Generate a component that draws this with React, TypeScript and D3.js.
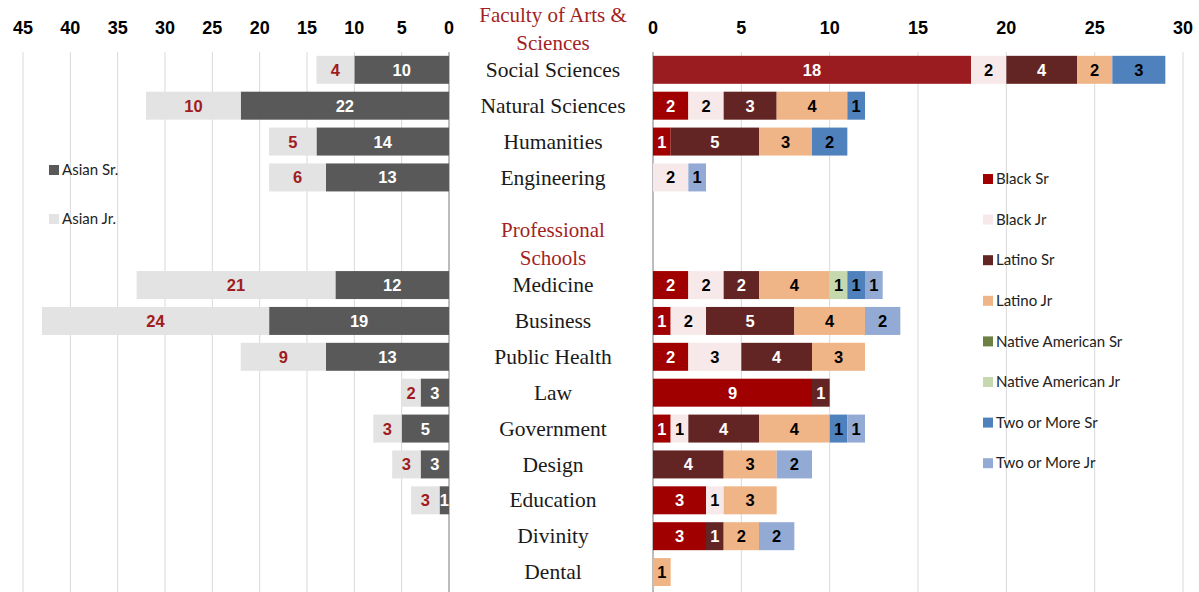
import * as d3 from "d3";

// rows (top to bottom); headers and spacer rows carry no data
const rows = [
  "hdr:Faculty of Arts &|Sciences",
  "Social Sciences",
  "Natural Sciences",
  "Humanities",
  "Engineering",
  "gap",
  "hdr:Professional|Schools",
  "Medicine",
  "Business",
  "Public Health",
  "Law",
  "Government",
  "Design",
  "Education",
  "Divinity",
  "Dental",
];

const schools = [
  "Social Sciences", "Natural Sciences", "Humanities", "Engineering",
  "Medicine", "Business", "Public Health", "Law", "Government",
  "Design", "Education", "Divinity", "Dental",
];

const asianSr = [10, 22, 14, 13, 12, 19, 13, 3, 5, 3, 1, 0, 0];
const asianJr = [4, 10, 5, 6, 21, 24, 9, 2, 3, 3, 3, 0, 0];

const blackSr = [18, 2, 1, 0, 2, 1, 2, 9, 1, 0, 3, 3, 0];
const blackJr = [2, 2, 0, 2, 2, 2, 3, 0, 1, 0, 1, 0, 0];
const latinoSr = [4, 3, 5, 0, 2, 5, 4, 1, 4, 4, 0, 1, 0];
const latinoJr = [2, 4, 3, 0, 4, 4, 3, 0, 4, 3, 3, 2, 1];
const nativeSr = [0, 0, 0, 0, 0, 0, 0, 0, 0, 0, 0, 0, 0];
const nativeJr = [0, 0, 0, 0, 1, 0, 0, 0, 0, 0, 0, 0, 0];
const twoSr = [3, 1, 2, 0, 1, 0, 0, 0, 1, 0, 0, 0, 0];
const twoJr = [0, 0, 0, 1, 1, 2, 0, 0, 1, 2, 0, 2, 0];

const leftTicks = [45, 40, 35, 30, 25, 20, 15, 10, 5, 0];
const rightTicks = [0, 5, 10, 15, 20, 25, 30];

const rightSeries = [
  { name: "Black Sr", vals: blackSr, color: "#a00000", text: "#fff" },
  { name: "Black Jr", vals: blackJr, color: "#f7e9e9", text: "#000" },
  { name: "Latino Sr", vals: latinoSr, color: "#632523", text: "#fff" },
  { name: "Latino Jr", vals: latinoJr, color: "#f0b586", text: "#000" },
  { name: "Native American Sr", vals: nativeSr, color: "#6b8042", text: "#fff" },
  { name: "Native American Jr", vals: nativeJr, color: "#c6d8ae", text: "#000" },
  { name: "Two or More Sr", vals: twoSr, color: "#4f81bd", text: "#000" },
  { name: "Two or More Jr", vals: twoJr, color: "#93aad4", text: "#000" },
];

const leftSeries = [
  { name: "Asian Sr.", vals: asianSr, color: "#595959", text: "#fff" },
  { name: "Asian Jr.", vals: asianJr, color: "#e3e3e3", text: "#a01c20" },
];

const W = 1199;
const H = 592;
const RED = "#a31f25";

export default function App() {
  const xL = d3.scaleLinear().domain([0, 45]).range([449, 23]);
  const xR = d3.scaleLinear().domain([0, 30]).range([653, 1183]);
  const y = d3.scaleBand().domain(rows).range([16, 590]).paddingInner(0.22).paddingOuter(0.11);
  const bw = y.bandwidth();
  const midX = 553;

  const leftStack = d3.stack<number>().keys(leftSeries.map((s) => s.name))
    .value((i, k) => leftSeries.find((s) => s.name === k)!.vals[i])(d3.range(schools.length));
  const rightStack = d3.stack<number>().keys(rightSeries.map((s) => s.name))
    .value((i, k) => rightSeries.find((s) => s.name === k)!.vals[i])(d3.range(schools.length));

  const labelFont = "Arial, 'Liberation Sans', sans-serif";
  const serif = "'Liberation Serif', 'Times New Roman', serif";
  const legendFont = "Lato, 'Open Sans', sans-serif";

  return (
    <>
      <style>{`body{margin:0}`}</style>
      <svg width={W} height={H} style={{ display: "block", background: "#fff" }}>
        {/* gridlines */}
        {leftTicks.map((t) => (
          <g key={"lt" + t}>
            <line x1={xL(t)} x2={xL(t)} y1={52} y2={H} stroke={t === 0 ? "#a6a6a6" : "#d9d9d9"} strokeWidth={t === 0 ? 1.5 : 1} />
            <text x={xL(t)} y={34} textAnchor="middle" fontFamily={labelFont} fontWeight="bold" fontSize={18} fill="#000">{t}</text>
          </g>
        ))}
        {rightTicks.map((t) => (
          <g key={"rt" + t}>
            <line x1={xR(t)} x2={xR(t)} y1={52} y2={H} stroke={t === 0 ? "#a6a6a6" : "#d9d9d9"} strokeWidth={t === 0 ? 1.5 : 1} />
            <text x={xR(t)} y={34} textAnchor="middle" fontFamily={labelFont} fontWeight="bold" fontSize={18} fill="#000">{t}</text>
          </g>
        ))}

        {/* left bars */}
        {leftStack.map((layer, li) => (
          <g key={layer.key}>
            {layer.map((d, i) => {
              const v = d[1] - d[0];
              if (!v) return null;
              const yy = y(schools[i])!;
              const x0 = xL(d[1]);
              const x1 = xL(d[0]);
              return (
                <g key={i}>
                  <rect x={x0} y={yy} width={x1 - x0} height={bw} fill={leftSeries[li].color} />
                  <text x={(x0 + x1) / 2} y={yy + bw / 2} dy="0.36em" textAnchor="middle" fontFamily={labelFont} fontWeight="bold" fontSize={16.5} fill={leftSeries[li].text}>{v}</text>
                </g>
              );
            })}
          </g>
        ))}

        {/* right bars */}
        {rightStack.map((layer, li) => (
          <g key={layer.key}>
            {layer.map((d, i) => {
              const v = d[1] - d[0];
              if (!v) return null;
              const yy = y(schools[i])!;
              const x0 = xR(d[0]);
              const x1 = xR(d[1]);
              const fill = schools[i] === "Social Sciences" && li === 0 ? "#9b1c20" : rightSeries[li].color;
              return (
                <g key={i}>
                  <rect x={x0} y={yy} width={x1 - x0} height={bw} fill={fill} />
                  <text x={(x0 + x1) / 2} y={yy + bw / 2} dy="0.36em" textAnchor="middle" fontFamily={labelFont} fontWeight="bold" fontSize={16.5} fill={rightSeries[li].text}>{v}</text>
                </g>
              );
            })}
          </g>
        ))}

        {/* category labels */}
        {rows.map((r) => {
          if (r === "gap") return null;
          const cy = y(r)! + bw / 2;
          if (r.startsWith("hdr:")) {
            const lines = r.slice(4).split("|");
            return (
              <text key={r} x={midX} textAnchor="middle" fontFamily={serif} fontSize={21} fill={RED}>
                {lines.map((l, k) => (
                  <tspan key={k} x={midX} y={cy - 12 + k * 28}>{l}</tspan>
                ))}
              </text>
            );
          }
          return (
            <text key={r} x={midX} y={cy} dy="0.33em" textAnchor="middle" fontFamily={serif} fontSize={21.5} fill="#1a1a1a">{r}</text>
          );
        })}

        {/* left legend */}
        {leftSeries.map((s, i) => (
          <g key={s.name} transform={`translate(49, ${170 + i * 49})`}>
            <rect x={0} y={-5} width={10} height={10} fill={s.color} />
            <text x={13} y={0} dy="0.35em" fontFamily={legendFont} fontSize={15} fill="#222">{s.name}</text>
          </g>
        ))}

        {/* right legend */}
        {rightSeries.map((s, i) => (
          <g key={s.name} transform={`translate(983, ${179 + i * 40.6})`}>
            <rect x={0} y={-5} width={10} height={10} fill={s.color} />
            <text x={13} y={0} dy="0.35em" fontFamily={legendFont} fontSize={15} fill="#222">{s.name}</text>
          </g>
        ))}
      </svg>
    </>
  );
}
